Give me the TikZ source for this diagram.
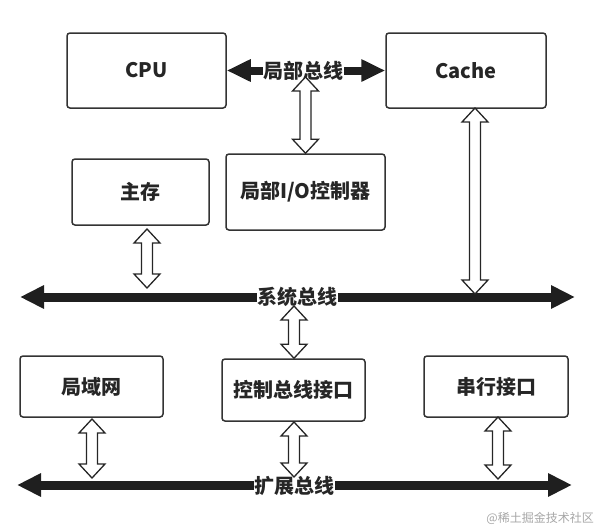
\documentclass[tikz,border=0pt]{standalone}
\usepackage{fontspec}
\setmainfont{Noto Sans CJK SC}
\usetikzlibrary{arrows.meta,calc}
\tikzset{
  box/.style={draw=black!80, line width=1.5pt, rounded corners=3pt, inner sep=0pt,
    font=\fontsize{20}{23}\selectfont\bfseries, text=black!85},
  bus/.style={line width=9pt, draw=black!88,
    {Triangle[width=22pt,length=24pt]}-{Triangle[width=22pt,length=24pt]}},
  lbus/.style={line width=8pt, draw=black!88,
    {Triangle[width=21pt,length=24pt]}-{Triangle[width=21pt,length=24pt]}},
  buslabel/.style={fill=white, inner sep=0.5pt, text=black!85,
    font=\fontsize{20}{23}\selectfont\bfseries},
  hollow/.style={draw=black!85, line width=1.3pt, fill=white, line join=miter,
    to path={let \p1=(\tikztostart), \p2=(\tikztotarget) in
      -- (\x1+13pt,\y1-14pt) -- (\x1+5.5pt,\y1-14pt) -- (\x1+5.5pt,\y2+14pt)
      -- (\x1+13pt,\y2+14pt) -- (\x1,\y2) -- (\x1-13pt,\y2+14pt)
      -- (\x1-5.5pt,\y2+14pt) -- (\x1-5.5pt,\y1-14pt) -- (\x1-13pt,\y1-14pt) -- cycle}}
}
\begin{document}
\begin{tikzpicture}[x=1pt, y=-1pt]
\useasboundingbox (0,0) rectangle (598,531);
% boxes
\node[box, minimum width=159pt, minimum height=75pt] (cpu) at (146.5,70.5) {CPU};
\node[box, minimum width=160pt, minimum height=75pt] (cache) at (466,70.5) {Cache};
\node[box, minimum width=159pt, minimum height=76pt] (lio) at (305.5,192) {局部I/O控制器};
\node[box, minimum width=137pt, minimum height=66pt] (mem) at (140.5,192) {主存};
\node[box, minimum width=143pt, minimum height=61pt] (lan) at (91.5,386.5) {局域网};
\node[box, minimum width=143pt, minimum height=62pt] (cbi) at (293.5,390) {控制总线接口};
\node[box, minimum width=144pt, minimum height=61pt] (ser) at (496,386.5) {串行接口};
% local bus
\draw[lbus] (cpu.east) -- (cache.west);
\node[buslabel] (lbl) at (303,71) {局部总线};
% system bus
\coordinate (sysL) at (20,297);
\coordinate (sysR) at (575,297);
\draw[bus] (sysL) -- (sysR);
\node[buslabel] (syslab) at (297,297) {系统总线};
% expansion bus
\coordinate (expL) at (17,485);
\coordinate (expR) at (572,485);
\draw[bus] (expL) -- (expR);
\node[buslabel] (explab) at (294,486) {扩展总线};
% hollow arrows
\coordinate (lbt) at (305.5,77);
\draw[hollow] (lbt) to (lio.north);
\coordinate (memt) at (147,229);
\coordinate (memb) at (147,288);
\draw[hollow] (memt) to (memb);
\coordinate (cat) at (475,108);
\coordinate (cab) at (475,294);
\draw[hollow] (cat) to (cab);
\coordinate (cbt) at (294,306);
\draw[hollow] (cbt) to (cbi.north);
\coordinate (lant) at (92,419);
\coordinate (lanb) at (92,478);
\draw[hollow] (lant) to (lanb);
\coordinate (cbbt) at (294,422);
\coordinate (cbbb) at (294,477);
\draw[hollow] (cbbt) to (cbbb);
\coordinate (sert) at (498,417);
\coordinate (serb) at (498,479);
\draw[hollow] (sert) to (serb);
% watermark
\node[anchor=east, inner sep=0pt, text=black!35, font=\fontsize{12}{14}\selectfont] (wm) at (594,518) {@稀土掘金技术社区};
\end{tikzpicture}
\end{document}
